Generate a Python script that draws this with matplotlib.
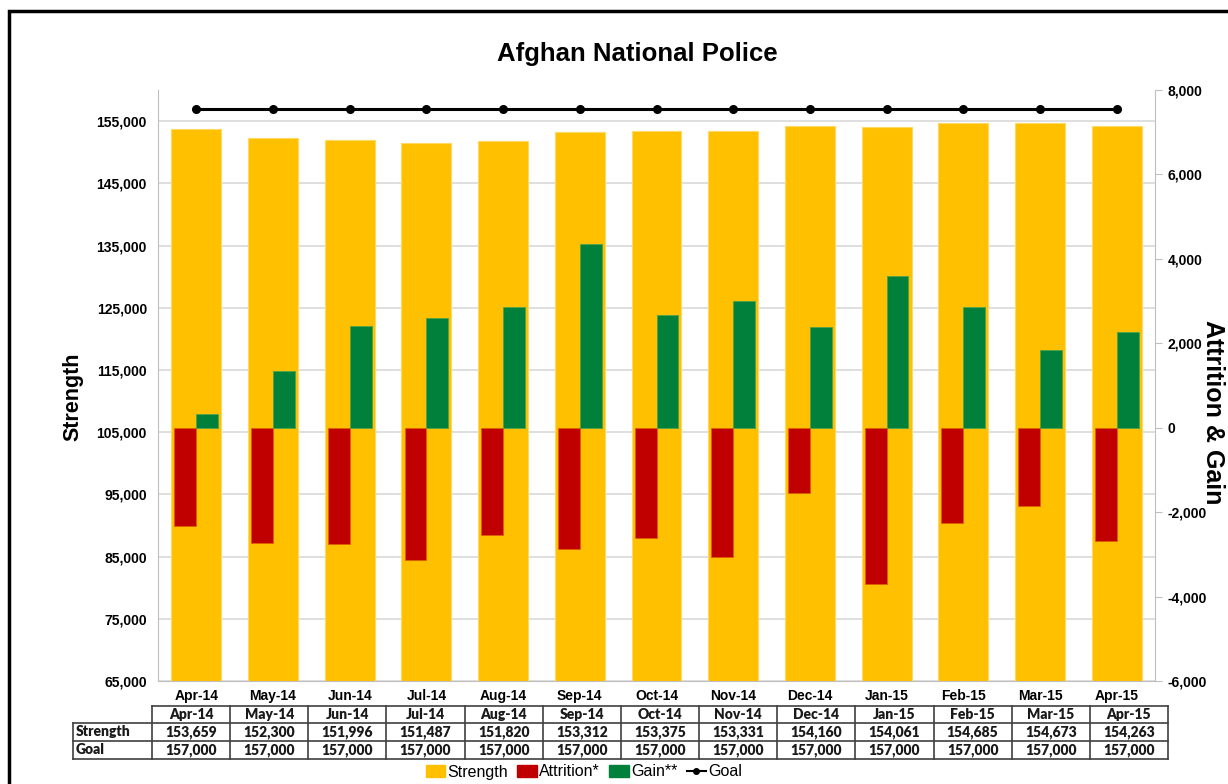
import matplotlib
matplotlib.use("Agg")
import matplotlib.pyplot as plt
from matplotlib.lines import Line2D
from matplotlib.patches import Patch, Rectangle
from matplotlib.ticker import FuncFormatter

months = ['Apr-14', 'May-14', 'Jun-14', 'Jul-14', 'Aug-14', 'Sep-14', 'Oct-14',
          'Nov-14', 'Dec-14', 'Jan-15', 'Feb-15', 'Mar-15', 'Apr-15']
strength = [153659, 152300, 151996, 151487, 151820, 153312, 153375,
            153331, 154160, 154061, 154685, 154673, 154263]
goal = [157000, 157000, 157000, 157000, 157000, 157000, 157000,
        157000, 157000, 157000, 157000, 157000, 157000]
attrition = [-2322, -2725, -2749, -3135, -2543, -2875, -2614,
             -3057, -1550, -3697, -2259, -1848, -2678]
gain = [330, 1350, 2417, 2599, 2860, 4343, 2661,
        2993, 2393, 3585, 2860, 1832, 2258]

C_STR = '#FFC000'
C_ATT = '#C00000'
C_GAIN = '#00803A'
GRID = '#D9D9D9'

W, H = 1228, 784
fig = plt.figure(figsize=(W / 100, H / 100), dpi=100)

def fx(x):
    return x / W

def fy(y):
    return 1 - y / H

ax = fig.add_axes([fx(158), fy(681), fx(1155) - fx(158), fy(90) - fy(681)])
ax2 = ax.twinx()

x = list(range(len(months)))
ax.bar(x, strength, width=0.65, color=C_STR, edgecolor='#FFD966', linewidth=0.8, zorder=2)
ax.plot(x, goal, color='black', lw=2.2, marker='o', ms=5.5, zorder=3)
ax.set_ylim(65000, 160000)
ax.set_xlim(-0.5, len(months) - 0.5)
ax.set_yticks(range(65000, 160000, 10000))
ax.yaxis.set_major_formatter(FuncFormatter(lambda v, p: f"{int(v):,}"))
ax.grid(axis='y', color=GRID, lw=1.2)
ax.set_axisbelow(True)
ax.set_xticks(x)
ax.set_xticklabels(months)
for s in ['top', 'right']:
    ax.spines[s].set_visible(False)
for s in ['left', 'bottom']:
    ax.spines[s].set_color('#BFBFBF')
ax.tick_params(axis='y', length=0, pad=8, labelsize=10)
ax.tick_params(axis='x', length=0, pad=6, labelsize=10)
for lab in ax.get_yticklabels() + ax.get_xticklabels():
    lab.set_fontweight('bold')
    lab.set_fontfamily('Liberation Sans')

xa = [i - 0.1425 for i in x]
xg = [i + 0.1425 for i in x]
ax2.bar(xa, attrition, width=0.285, color=C_ATT, edgecolor='#E06000', linewidth=0.6, zorder=2)
ax2.bar(xg, gain, width=0.285, color=C_GAIN, edgecolor='#4CA24C', linewidth=0.6, zorder=2)
ax2.set_ylim(-6000, 8000)
ax2.set_yticks(range(-6000, 8001, 2000))
ax2.yaxis.set_major_formatter(FuncFormatter(lambda v, p: f"{int(v):,}"))
for s in ['top', 'left', 'bottom']:
    ax2.spines[s].set_visible(False)
ax2.spines['right'].set_color('#BFBFBF')
ax2.tick_params(axis='y', length=5, color='#BFBFBF', pad=4, labelsize=10)
for lab in ax2.get_yticklabels():
    lab.set_fontweight('bold')
    lab.set_fontfamily('Liberation Sans')

fig.text(fx(637), fy(54), 'Afghan National Police', ha='center', va='center',
         fontsize=18.5, fontweight='bold', family='Liberation Sans')
fig.text(fx(73), fy(397), 'Strength', ha='center', va='center', rotation=90,
         fontsize=15.5, fontweight='bold', family='Liberation Sans')
fig.text(fx(1213), fy(412), 'Attrition & Gain', ha='center', va='center', rotation=270,
         fontsize=18, fontweight='bold', family='Liberation Sans')

# data table
tl, tr = 152, 1168
lab_l = 73
rows_y = [706, 723, 741, 759]
ncol = len(months)
cw = (tr - tl) / ncol
lc = '#404040'

def hline(x0, x1, y, lw=1.2):
    fig.add_artist(Line2D([fx(x0), fx(x1)], [fy(y), fy(y)], color=lc, lw=lw,
                          transform=fig.transFigure))

def vline(xp, y0, y1, lw=1.2):
    fig.add_artist(Line2D([fx(xp), fx(xp)], [fy(y0), fy(y1)], color=lc, lw=lw,
                          transform=fig.transFigure))

hline(tl, tr, rows_y[0])
hline(lab_l, tr, rows_y[1])
hline(lab_l, tr, rows_y[2])
hline(lab_l, tr, rows_y[3])
vline(lab_l, rows_y[1], rows_y[3])
for k in range(ncol + 1):
    vline(tl + k * cw, rows_y[0], rows_y[3])

tfont = dict(family='Lato', fontweight='heavy', fontsize=10, color='#1a1a1a')
for k, m in enumerate(months):
    cx = tl + (k + 0.5) * cw
    fig.text(fx(cx), fy((rows_y[0] + rows_y[1]) / 2), m, ha='center', va='center', **tfont)
    fig.text(fx(cx), fy((rows_y[1] + rows_y[2]) / 2), f"{strength[k]:,}", ha='center', va='center', **tfont)
    fig.text(fx(cx), fy((rows_y[2] + rows_y[3]) / 2), f"{goal[k]:,}", ha='center', va='center', **tfont)
fig.text(fx(lab_l + 3), fy((rows_y[1] + rows_y[2]) / 2), 'Strength', ha='left', va='center', **tfont)
fig.text(fx(lab_l + 3), fy((rows_y[2] + rows_y[3]) / 2), 'Goal', ha='left', va='center', **tfont)

handles = [Patch(color=C_STR), Patch(color=C_ATT), Patch(color=C_GAIN),
           Line2D([], [], color='black', lw=1.5, marker='o', ms=4)]
fig.legend(handles, ['Strength', 'Attrition*', 'Gain**', 'Goal'],
           loc='center', bbox_to_anchor=(fx(584), fy(772)), ncol=4, frameon=False,
           prop=dict(family='Liberation Sans', size=11.5), handlelength=1.2,
           handleheight=0.8, handletextpad=0.15, columnspacing=0.6, borderpad=0)

fig.add_artist(Rectangle((fx(9), fy(800)), fx(1250) - fx(9), fy(11) - fy(800),
                         fill=False, edgecolor='black', lw=2.5,
                         transform=fig.transFigure, clip_on=False))

fig.savefig('out.png', dpi=100)
